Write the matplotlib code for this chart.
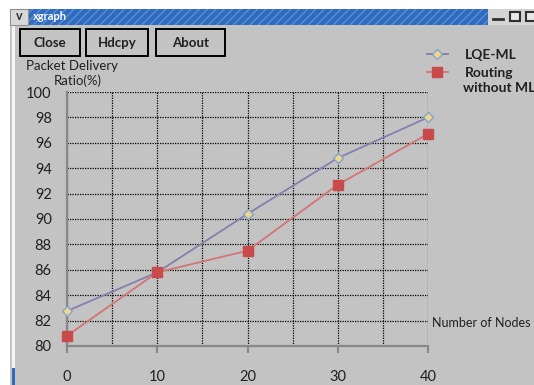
import matplotlib.pyplot as plt
from matplotlib.patches import Rectangle
from matplotlib.ticker import MultipleLocator

nodes = [0, 10, 20, 30, 40]
lqe_ml = [82.75, 85.8, 90.4, 94.8, 98.0]
routing_no_ml = [80.8, 85.8, 87.5, 92.7, 96.7]
x_ticks = [0, 10, 20, 30, 40]
y_ticks = [80, 82, 84, 86, 88, 90, 92, 94, 96, 98, 100]
buttons = ['Close', 'Hdcpy', 'About']

W, H = 534, 385
BG = '#c3c3c3'
plt.rcParams['font.family'] = ['Lato', 'DejaVu Sans']

fig = plt.figure(figsize=(W / 100, H / 100), dpi=100)
fig.patch.set_facecolor('white')

## window chrome, drawn in pixel coordinates
chrome = fig.add_axes([0, 0, 1, 1])
chrome.set_xlim(0, W)
chrome.set_ylim(H, 0)
chrome.axis('off')
chrome.add_patch(Rectangle((10, 9), W - 10, H - 9, facecolor=BG, edgecolor='none'))
chrome.add_patch(Rectangle((12, 25), 3, H - 25, facecolor='#f4f4f4', edgecolor='none'))
chrome.add_patch(Rectangle((12, 368), 3, H - 368, facecolor='#2f6cc0', edgecolor='none'))
# title bar
chrome.add_patch(Rectangle((28, 9), 460, 16, facecolor='#2f6cc0', edgecolor='#5b8fd6',
                           hatch='////', linewidth=0))
chrome.add_patch(Rectangle((10, 9), 18, 16, facecolor='#d8d8d8', edgecolor='#909090', lw=0.8))
chrome.text(19, 16.5, 'v', ha='center', va='center', fontsize=9, fontweight='bold', color='#303030')
chrome.text(33, 17, 'xgraph', ha='left', va='center', fontsize=8, fontweight='bold', color='white')
chrome.add_patch(Rectangle((488, 9), W - 488, 16, facecolor='#d4d4d4', edgecolor='none'))
chrome.plot([493, 503], [19, 19], color='#303030', lw=2)
chrome.add_patch(Rectangle((510, 12), 10, 9, facecolor='#e8e8e8', edgecolor='#303030', lw=1.5))
chrome.add_patch(Rectangle((526, 12), 10, 9, facecolor='#e8e8e8', edgecolor='#303030', lw=1.5))
# buttons
for (x0, x1), name in zip([(20, 80), (86, 148), (156, 225)], buttons):
    chrome.add_patch(Rectangle((x0, 29), x1 - x0, 27, facecolor=BG, edgecolor='black', lw=1.4))
    chrome.text((x0 + x1) / 2, 43, name, ha='center', va='center', fontsize=9.5,
                fontweight='bold', color='#202020')

## the plot itself
ax = fig.add_axes([67 / W, 1 - 346 / H, (428 - 67) / W, (346 - 92) / H])
ax.set_facecolor(BG)
ax.plot(nodes, lqe_ml, color='#8a7cae', lw=1.3, marker='D', markersize=5,
        markerfacecolor='#f2d58c', markeredgecolor='#7fa6cf', markeredgewidth=1,
        label='LQE-ML', zorder=3, clip_on=False)
ax.plot(nodes, routing_no_ml, color='#d47474', lw=1.3, marker='s', markersize=7,
        markerfacecolor='#c94a4a', markeredgecolor='#c94a4a', label='Routing',
        zorder=3, clip_on=False)
ax.set_xlim(0, 40)
ax.set_ylim(80, 100)
ax.set_xticks(x_ticks)
ax.set_yticks(y_ticks)
ax.xaxis.set_minor_locator(MultipleLocator(5))
ax.grid(True, which='both', color='black', linestyle=(0, (1, 1)), linewidth=0.9)
ax.set_axisbelow(True)
ax.tick_params(axis='x', which='major', length=5, width=1.5, color='#888888', pad=12,
               labelsize=10.5, labelcolor='#202020')
ax.tick_params(axis='x', which='minor', length=0)
ax.tick_params(axis='y', length=0, pad=11, labelsize=10.5, labelcolor='#202020')
for s in ['left', 'bottom']:
    ax.spines[s].set_color('#888888')
    ax.spines[s].set_linewidth(1.6)
for s in ['top', 'right']:
    ax.spines[s].set_visible(False)

fig.text(72 / W, 1 - 66 / H, 'Packet Delivery', ha='center', va='center', fontsize=9.5, color='#202020')
fig.text(78 / W, 1 - 81 / H, 'Ratio(%)', ha='center', va='center', fontsize=9.5, color='#202020')
fig.text(432 / W, 1 - 323 / H, 'Number of Nodes', ha='left', va='center', fontsize=9, color='#202020')

leg = ax.legend(loc='upper left', bbox_to_anchor=(420 / W, 1 - 42 / H),
                bbox_transform=fig.transFigure, frameon=False, fontsize=10,
                handlelength=1.5, handletextpad=1.2, labelspacing=0.45, borderpad=0)
for t in leg.get_texts():
    t.set_fontweight('bold')
    t.set_color('#202020')
fig.text(463 / W, 1 - 88 / H, 'without ML', ha='left', va='center', fontsize=10,
         fontweight='bold', color='#202020')

fig.savefig('out.png', dpi=100)
